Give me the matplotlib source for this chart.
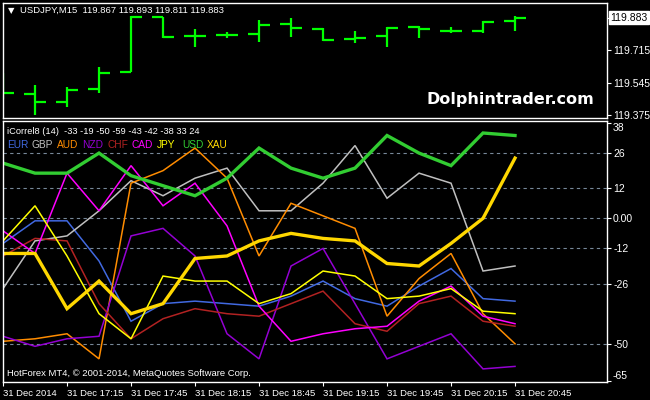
import matplotlib.pyplot as plt
import matplotlib.transforms as mtransforms

plt.rcParams['font.family'] = ['Liberation Sans', 'DejaVu Sans']

# USDJPY M15 bars, 31 Dec 2014 16:45 .. 20:45
opens = [119.560, 119.486, 119.444, 119.512, 119.600, 119.886, 119.787, 119.792, 119.797,
         119.849, 119.823, 119.771, 119.787, 119.834, 119.813, 119.813, 119.867]
highs = [119.595, 119.533, 119.522, 119.626, 119.891, 119.886, 119.823, 119.808, 119.870,
         119.880, 119.829, 119.813, 119.834, 119.839, 119.834, 119.865, 119.893]
lows = [119.460, 119.377, 119.418, 119.491, 119.600, 119.777, 119.730, 119.777, 119.756,
        119.782, 119.761, 119.751, 119.730, 119.777, 119.803, 119.803, 119.811]
closes = [119.491, 119.444, 119.507, 119.595, 119.886, 119.782, 119.787, 119.792, 119.844,
          119.829, 119.766, 119.777, 119.829, 119.823, 119.813, 119.860, 119.883]

# iCorrel8 (14) values per currency
currencies = ["EUR", "GBP", "AUD", "NZD", "CHF", "CAD", "JPY", "USD", "XAU"]
eur = [-10, -1, -1, -17, -41, -34, -33, -34, -35, -31, -25, -32, -35, -27, -20, -32, -33]
gbp = [-28, -9, -7, 3, 15, 9, 16, 20, 3, 3, 14, 29, 8, 18, 14, -21, -19]
aud = [-49, -48, -46, -56, 14, 19, 28, 16, -15, 6, 1, -4, -39, -24, -14, -38, -50]
nzd = [-47, -51, -48, -47, -7, -4, -15, -46, -56, -19, -12, -34, -56, -51, -46, -60, -59]
chf = [-15, -8, -9, -34, -48, -40, -36, -38, -39, -34, -29, -42, -45, -34, -31, -41, -43]
cad = [-5, -14, 18, 3, 21, 5, 14, -3, -35, -49, -46, -44, -43, -33, -27, -39, -42]
jpy = [-9, 5, -15, -38, -48, -23, -25, -25, -34, -30, -21, -23, -32, -31, -28, -37, -38]
usd = [22, 18, 18, 26, 17, 13, 9, 16, 28, 20, 16, 20, 33, 26, 21, 34, 33]
xau = [-14, -14, -36, -25, -38, -34, -16, -15, -9, -6, -8, -9, -18, -19, -10, 0, 24]
series = [eur, gbp, aud, nzd, chf, cad, jpy, usd, xau]
last_values = [-33, -19, -50, -59, -43, -42, -38, 33, 24]

colors = ["#4169E1", "#C0C0C0", "#FF8C00", "#9400D3", "#B22222",
          "#FF00FF", "#FFFF00", "#32CD32", "#FFD700"]
widths = [1.1, 1.1, 1.1, 1.1, 1.1, 1.1, 1.1, 2.4, 2.4]

levels = [26, 12, 0, -12, -26, -50]
time_ticks = [0, 2, 4, 6, 8, 10, 12, 14, 16]
time_labels = ["31 Dec 2014", "31 Dec 17:15", "31 Dec 17:45", "31 Dec 18:15", "31 Dec 18:45",
               "31 Dec 19:15", "31 Dec 19:45", "31 Dec 20:15", "31 Dec 20:45"]
price_ticks = [119.375, 119.545, 119.715]

W, H = 650, 400
fig = plt.figure(figsize=(6.5, 4), dpi=100, facecolor='black')


def box(l, t, r, b):
    return [l / W, 1 - b / H, (r - l) / W, (b - t) / H]


ax1 = fig.add_axes(box(2.7, 2.7, 607.5, 117.7))
ax2 = fig.add_axes(box(2.7, 120.7, 607.5, 381.7))
for ax in (ax1, ax2):
    ax.set_facecolor('black')
    for s in ax.spines.values():
        s.set_color('white')
        s.set_linewidth(1.0)
    ax.set_xlim(-0.01, 18.89)
    ax.yaxis.tick_right()
    ax.tick_params(axis='y', colors='white', length=3, pad=1, labelsize=7.5)

# price bars
xs = list(range(len(opens)))
green = '#00FF00'
ax1.vlines(xs, lows, highs, color=green, lw=1.6)
ax1.hlines(opens, [x - 0.33 for x in xs], xs, color=green, lw=1.6)
ax1.hlines(closes, xs, [x + 0.33 for x in xs], color=green, lw=1.6)
ax1.set_ylim(119.363, 119.960)
ax1.set_xticks([])
ax1.set_yticks(price_ticks + [closes[-1]])
ax1.set_yticklabels([f"{p:.3f}" for p in price_ticks] + [""])
trans1 = mtransforms.blended_transform_factory(ax1.transAxes, ax1.transData)
ax1.text(1.005, closes[-1], f"{closes[-1]:.3f}", transform=trans1, color='black',
         fontsize=7.5, va='center', ha='left',
         bbox=dict(facecolor='white', edgecolor='white', pad=1.2))
ax1.text(0.008, 0.93, "\u25BC", transform=ax1.transAxes, color='white', fontsize=6,
         va='center', ha='left', family=['DejaVu Sans'])
ax1.text(0.028, 0.93, f"USDJPY,M15  {opens[-1]:.3f} {highs[-1]:.3f} {lows[-1]:.3f} {closes[-1]:.3f}",
         transform=ax1.transAxes, color='white', fontsize=6.8, va='center', ha='left')
ax1.text(0.70, 0.155, "Dolphintrader.com", transform=ax1.transAxes, color='white',
         fontsize=11.5, fontweight='bold', va='center', ha='left', family=['DejaVu Sans'])

# correlation panel
for lv in levels:
    ax2.axhline(lv, color='#778899', lw=0.8, ls=(0, (3, 3)))
for vals, c, w in zip(series, colors, widths):
    ax2.plot(xs, vals, color=c, lw=w, solid_joinstyle='miter')
ax2.set_ylim(-65.1, 38.9)
ax2.set_yticks([38] + levels + [-65])
ax2.set_yticklabels([""] + ["26", "12", "0.00", "-12", "-26", "-50"] + [""])
trans2 = mtransforms.blended_transform_factory(ax2.transAxes, ax2.transData)
ax2.text(1.0085, 36, "38", transform=trans2, color='white', fontsize=7.5, va='center')
ax2.text(1.0085, -62.7, "-65", transform=trans2, color='white', fontsize=7.5, va='center')
ax2.set_xticks(time_ticks)
ax2.set_xticklabels(time_labels, ha='left')
ax2.tick_params(axis='x', colors='white', length=3, pad=2, labelsize=6.8)

ax2.text(7 / W, 1 - 131 / H, "iCorrel8 (14)  " + " ".join(str(v) for v in last_values),
         transform=fig.transFigure, color='white', fontsize=6.7, va='center', ha='left')
for i, (name, c) in enumerate(zip(currencies, colors)):
    fig.text((7 + 25 * i) / W, 1 - 145 / H, name, color=c, fontsize=7.3, va='center', ha='left')
fig.text(7 / W, 1 - 373 / H, "HotForex MT4, \u00A9 2001-2014, MetaQuotes Software Corp.",
         color='white', fontsize=6.8, va='center', ha='left')

fig.savefig("out.png", dpi=100, facecolor='black')
